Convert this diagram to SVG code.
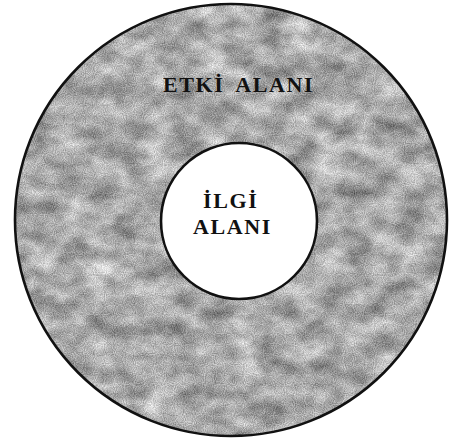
<svg xmlns="http://www.w3.org/2000/svg" width="452" height="442" viewBox="0 0 452 442">
  <style>
    .lbl { font-family: "Liberation Serif", "Times New Roman", serif; font-weight: bold; font-size: 22px; fill: #111; letter-spacing: 1.6px; }
    .edge { fill: none; stroke: #111; stroke-width: 2.6; }
  </style>
  <defs>
    <filter id="tex" filterUnits="userSpaceOnUse" x="0" y="0" width="452" height="442" color-interpolation-filters="sRGB">
      <feTurbulence type="fractalNoise" baseFrequency="0.035 0.05" numOctaves="3" seed="7" result="n1"/>
      <feColorMatrix in="n1" type="matrix" values="0.6 0 0 0 0.36  0.6 0 0 0 0.36  0.6 0 0 0 0.36  0 0 0 0 1" result="coarse"/>
      <feTurbulence type="fractalNoise" baseFrequency="0.9" numOctaves="1" seed="3" result="n2"/>
      <feColorMatrix in="n2" type="matrix" values="1 0 0 0 0  1 0 0 0 0  1 0 0 0 0  0 0 0 0 1" result="fine"/>
      <feComposite in="coarse" in2="fine" operator="arithmetic" k1="0" k2="1" k3="0.5" k4="-0.25"/>
    </filter>
    <clipPath id="ring">
      <path clip-rule="evenodd" d="M15,220 a216,216 0 1,0 432,0 a216,216 0 1,0 -432,0 Z M161,221 a78,78 0 1,0 156,0 a78,78 0 1,0 -156,0 Z"/>
    </clipPath>
  </defs>
  <rect width="452" height="442" fill="#ffffff"/>
  <g id="etki-alani">
    <g clip-path="url(#ring)">
      <rect x="0" y="0" width="452" height="442" fill="#999" filter="url(#tex)"/>
    </g>
    <circle class="edge" cx="231" cy="220" r="216"/>
    <text class="lbl" x="163" y="92" word-spacing="5">ETKİ ALANI</text>
  </g>
  <g id="ilgi-alani">
    <circle cx="239" cy="221" r="78" fill="#ffffff" stroke="#111" stroke-width="2.6"/>
    <text class="lbl" x="203" y="208">İLGİ</text>
    <text class="lbl" x="193" y="234">ALANI</text>
  </g>
  <g id="connectors"/>
</svg>
